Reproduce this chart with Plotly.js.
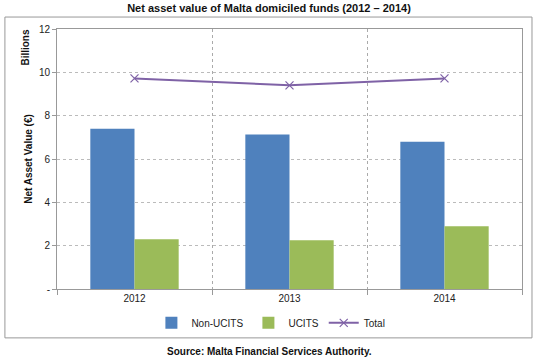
<!DOCTYPE html>
<html>
<head>
<meta charset="utf-8">
<script src="https://cdn.plot.ly/plotly-3.0.1.min.js"></script>
<style>html,body{margin:0;padding:0;background:#fff;}#chart{width:538px;height:358px;}</style>
</head>
<body>
<div id="chart"></div>
<script>
const years = ["2012", "2013", "2014"];
const nonUcits = [7.40, 7.13, 6.80];
const ucits = [2.30, 2.25, 2.90];
const total = [9.72, 9.40, 9.72];
const yTickVals = [0, 2, 4, 6, 8, 10, 12];
const yTickText = ["-", "2", "4", "6", "8", "10", "12"];

const FONT = "Liberation Sans Narrow, Liberation Sans, Arial, sans-serif";

const traces = [
  {type: "bar", name: "Non-UCITS", x: years, y: nonUcits, marker: {color: "#4F81BD"}},
  {type: "bar", name: "UCITS", x: years, y: ucits, marker: {color: "#9BBB59"}},
  {type: "scatter", mode: "lines+markers", name: "Total", x: years, y: total,
   line: {color: "#7F62A6", width: 2},
   marker: {symbol: "x-thin", size: 8, line: {color: "#7F62A6", width: 1.2}}}
];

const layout = {
  width: 538, height: 358,
  margin: {l: 57, r: 16, t: 29, b: 69},
  paper_bgcolor: "#fff", plot_bgcolor: "#fff",
  font: {family: FONT, size: 10, color: "#222"},
  barmode: "group", bargap: 0.43, bargroupgap: 0,
  showlegend: true,
  title: {text: "<b>Net asset value of Malta domiciled funds (2012 – 2014)</b>",
          x: 0.5, xanchor: "center", y: 0.978, yanchor: "middle",
          font: {family: FONT, size: 11, color: "#111"}},
  xaxis: {type: "category", tickson: "boundaries", ticks: "outside", ticklen: 5,
          tickcolor: "#999", showgrid: true, griddash: "dot", gridcolor: "#aaa",
          showline: true, linecolor: "#999", mirror: true, zeroline: false,
          tickfont: {size: 10, color: "#222"}},
  yaxis: {range: [0, 12], tickvals: yTickVals, ticktext: yTickText,
          ticks: "outside", ticklen: 4, tickcolor: "#999",
          showgrid: true, griddash: "dot", gridcolor: "#bbb",
          showline: true, linecolor: "#999", mirror: true, zeroline: false,
          tickfont: {size: 10, color: "#222"},
          title: {text: "<b>Net Asset Value (€)</b>", standoff: 4,
                  font: {family: FONT, size: 10, color: "#111"}}},
  legend: {orientation: "h", x: 0.46, xanchor: "center", y: -0.13, yanchor: "middle",
           font: {size: 10, color: "#222"}, itemwidth: 30, tracegroupgap: 0,
           bgcolor: "rgba(0,0,0,0)"},
  annotations: [
    {text: "<b>Billions</b>", xref: "paper", yref: "paper", x: -0.068, y: 0.93,
     showarrow: false, textangle: -90, xanchor: "center", yanchor: "middle",
     font: {family: FONT, size: 10, color: "#111"}},
    {text: "<b>Source: Malta Financial Services Authority.</b>", xref: "paper", yref: "paper",
     x: 0.458, y: -0.242, showarrow: false, xanchor: "center", yanchor: "middle",
     font: {family: FONT, size: 10, color: "#111"}}
  ],
  shapes: [
    {type: "rect", xref: "paper", yref: "paper", x0: -0.112, x1: 1.0215, y0: -0.188, y1: 1.046,
     line: {color: "#999", width: 1}, fillcolor: "rgba(0,0,0,0)", layer: "below"}
  ]
};

Plotly.newPlot("chart", traces, layout, {displayModeBar: false, staticPlot: true});
</script>
</body>
</html>
